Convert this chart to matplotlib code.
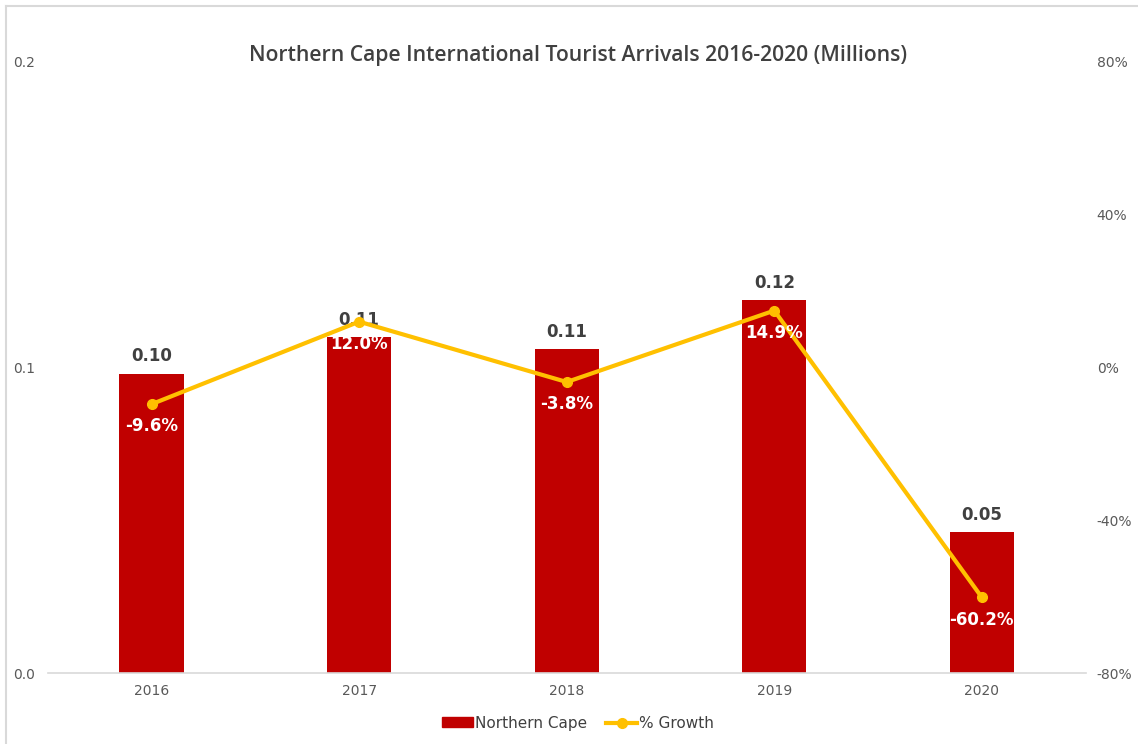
import matplotlib.pyplot as plt
from matplotlib.lines import Line2D
from matplotlib.patches import Patch
from matplotlib.ticker import FuncFormatter

years = ['2016', '2017', '2018', '2019', '2020']
arrivals = [0.098, 0.110, 0.106, 0.122, 0.046]   # millions
growth = [-9.6, 12.0, -3.8, 14.9, -60.2]          # % change

bar_color = '#C00000'
line_color = '#FFC000'
text_dark = '#404040'
tick_grey = '#595959'

fig = plt.figure(figsize=(11.38, 7.44), dpi=100)
ax = fig.add_axes([0.042, 0.0954, 0.912, 0.8213])

x = range(len(years))
ax.bar(x, arrivals, width=0.31, color=bar_color, zorder=2)
ax.set_xlim(-0.5, len(years) - 0.5)
ax.set_ylim(0, 0.2)
ax.set_yticks([0.0, 0.1, 0.2])
ax.yaxis.set_major_formatter(FuncFormatter(lambda v, p: f'{v:.1f}'))
ax.set_xticks(list(x))
ax.set_xticklabels(years)

for s in ['top', 'right', 'left']:
    ax.spines[s].set_visible(False)
ax.spines['bottom'].set_color('#d9d9d9')
ax.spines['bottom'].set_linewidth(1.2)
ax.tick_params(axis='x', length=0, pad=8, labelsize=10, labelcolor=tick_grey)
ax.tick_params(axis='y', length=0, pad=9, labelsize=10, labelcolor=tick_grey)

for i, v in enumerate(arrivals):
    ax.annotate(f'{v:.2f}', (i, v), xytext=(0, 6), textcoords='offset points',
                ha='center', va='bottom', fontsize=12, fontweight='bold',
                color=text_dark, zorder=5)

# growth line on the secondary axis
ax2 = ax.twinx()
ax2.plot(list(x), growth, color=line_color, lw=3, marker='o', ms=7, zorder=3)
ax2.set_ylim(-80, 80)
ax2.set_yticks([-80, -40, 0, 40, 80])
ax2.yaxis.set_major_formatter(FuncFormatter(lambda v, p: f'{v:.0f}%'))
for s in ['top', 'right', 'left', 'bottom']:
    ax2.spines[s].set_visible(False)
ax2.tick_params(axis='y', length=0, pad=8, labelsize=10, labelcolor=tick_grey)

for i, g in enumerate(growth):
    ax2.annotate(f'{g:.1f}%', (i, g), xytext=(0, -16), textcoords='offset points',
                 ha='center', va='center', fontsize=12, fontweight='bold',
                 color='white', zorder=6)

fig.suptitle('Northern Cape International Tourist Arrivals 2016-2020 (Millions)',
             x=0.508, y=0.94, fontsize=15.2, fontweight=600, color=text_dark,
             fontfamily='Open Sans')

handles = [Patch(color=bar_color),
           Line2D([0], [0], color=line_color, lw=3, marker='o', ms=7)]
fig.legend(handles, ['Northern Cape', '% Growth'], loc='center',
           bbox_to_anchor=(0.508, 0.028), ncol=2, frameon=False,
           fontsize=11, labelcolor=text_dark, handlelength=2.0,
           handleheight=0.6, handletextpad=0.15, columnspacing=1.25)

# outer chart frame
fig.add_artist(Line2D([0.0053, 0.0053], [0, 0.992], color='#d9d9d9', lw=1.5,
                      transform=fig.transFigure))
fig.add_artist(Line2D([0.0053, 1], [0.992, 0.992], color='#d9d9d9', lw=1.5,
                      transform=fig.transFigure))

fig.savefig('out.png', dpi=100)
